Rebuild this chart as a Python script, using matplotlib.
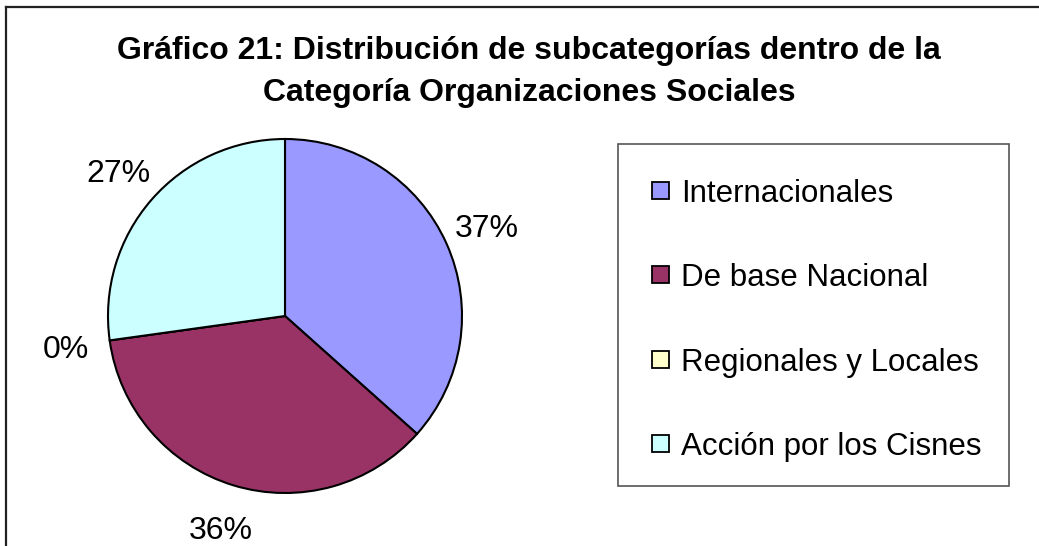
import matplotlib.pyplot as plt
from matplotlib.lines import Line2D
from matplotlib.patches import Rectangle

# data
categories = ["Internacionales", "De base Nacional", "Regionales y Locales", "Acción por los Cisnes"]
shares = [36.6, 36.2, 0.0, 27.2]
colors = ["#9999FF", "#993366", "#FFFFCC", "#CCFFFF"]
title_lines = ["Gráfico 21: Distribución de subcategorías dentro de la",
               "Categoría Organizaciones Sociales"]

W, H = 1039, 546
plt.rcParams['font.family'] = ['Liberation Sans', 'DejaVu Sans']

fig = plt.figure(figsize=(W / 100, H / 100), dpi=100)
fig.patch.set_facecolor("white")

def fx(px):
    return px / W

def fy(py):
    return 1 - py / H

# outer chart frame (only top and left visible)
fig.add_artist(Line2D([fx(6), 1], [fy(7), fy(7)], color="#222222", lw=1.6, transform=fig.transFigure))
fig.add_artist(Line2D([fx(6), fx(6)], [fy(7), 0], color="#222222", lw=1.6, transform=fig.transFigure))

# title
fig.text(fx(529), fy(59), title_lines[0], ha="center", va="baseline",
         fontsize=23, fontweight="bold")
fig.text(fx(529), fy(101), title_lines[1], ha="center", va="baseline",
         fontsize=23, fontweight="bold")

# pie
cx, cy, r = 285, 316, 177
ax = fig.add_axes([fx(cx - r), fy(cy + r), 2 * r / W, 2 * r / H])
wedges, texts, autotexts = ax.pie(
    shares, colors=colors, startangle=90, counterclock=False,
    autopct="%1.0f%%", pctdistance=1.25,
    wedgeprops=dict(edgecolor="black", linewidth=1.5),
    textprops=dict(fontsize=23, color="black"))
for t in autotexts:
    t.set_va("center_baseline")
ax.set_xlim(-1, 1)
ax.set_ylim(-1, 1)
ax.set_aspect("equal")
ax.axis("off")
for w in wedges:
    w.set_clip_on(False)

# legend
lx0, ly0, lx1, ly1 = 618, 144, 1009, 486
fig.add_artist(Rectangle((fx(lx0), fy(ly1)), fx(lx1) - fx(lx0), fy(ly0) - fy(ly1),
                         transform=fig.transFigure, facecolor="white",
                         edgecolor="#555555", lw=1.2))
row_y = [190, 274, 359, 443]
sq = 17
for name, col, yy in zip(categories, colors, row_y):
    fig.add_artist(Rectangle((fx(652), fy(yy + sq / 2)), sq / W, sq / H,
                             transform=fig.transFigure, facecolor=col,
                             edgecolor="black", lw=1.3))
    fig.text(fx(681), fy(yy), name, ha="left", va="center_baseline", fontsize=22.5)

fig.savefig("out.png", dpi=100)
